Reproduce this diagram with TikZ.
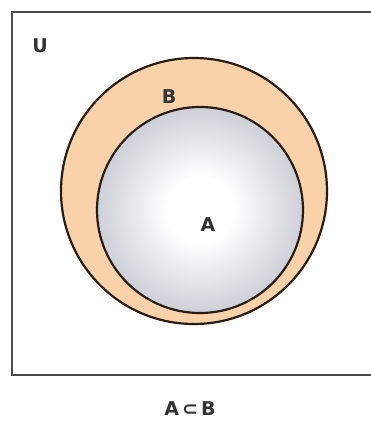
\documentclass[tikz,border=0pt]{standalone}
\usepackage{fontspec}
\setmainfont{DejaVu Sans}
\begin{document}
\begin{tikzpicture}[x=1pt,y=-1pt,
  lbl/.style={font=\fontsize{19}{19}\selectfont\bfseries, text=black!80, inner sep=0pt},
  ring/.style={draw={rgb,255:red,40;green,28;blue,20}, line width=2.2pt}]
\pgfdeclareradialshading{ball}{\pgfpoint{0bp}{0bp}}{%
  color(0bp)=(white); color(8bp)=(white); color(30bp)=({rgb,255:red,190;green,194;blue,204}); color(50bp)=({rgb,255:red,176;green,182;blue,195})}
\useasboundingbox (0,0) rectangle (371,421);
\begin{scope}
\clip (0,0) rectangle (371,421);
\draw[line width=1.8pt, draw=black!70] (12,12) rectangle (380,375);
\end{scope}
\node[ring, circle, minimum size=266pt, inner sep=0pt, fill={rgb,255:red,250;green,210;blue,170}] (B) at (194,191) {};
\node[ring, circle, minimum size=206pt, inner sep=0pt, shading=ball] (A) at (200,210) {};
\node[lbl] (U) at (40,46) {U};
\node[lbl] (Bl) at (169,97) {B};
\node[lbl] (Al) at (208,225) {A};
\node[lbl] (cap) at (190,409) {A\,⊂\,B};
\end{tikzpicture}
\end{document}
